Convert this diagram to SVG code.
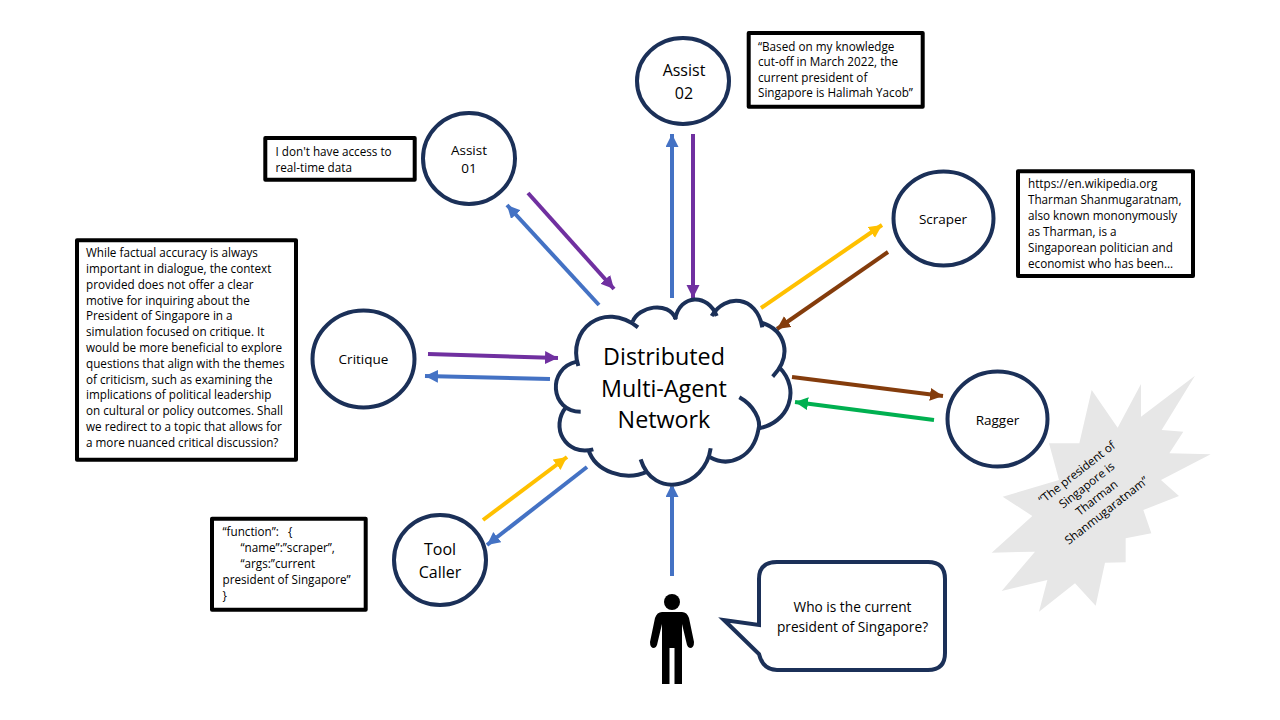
<svg xmlns="http://www.w3.org/2000/svg" width="1280" height="720" viewBox="0 0 1280 720">
<style>
text{font-family:"Open Sans","Noto Sans","Liberation Sans",sans-serif;fill:#000}
.agent{fill:#fff;stroke:#1b3058;stroke-width:4}
.box{fill:#fff;stroke:#000;stroke-width:4;stroke-linejoin:round}
.t{font-size:11.7px}
.n{font-size:13.5px;text-anchor:middle}
.b{font-size:16px;text-anchor:middle}
.c{stroke-width:4;fill:none}
.blue{stroke:#4472c4}.purple{stroke:#7030a0}.yellow{stroke:#ffc000}.brown{stroke:#843c0c}.green{stroke:#00b050}
</style>
<defs>
<marker id="ab" markerUnits="userSpaceOnUse" markerWidth="14" markerHeight="14" refX="13" refY="6.500" orient="auto"><path d="M0 0L13 6.500L0 13z" fill="#4472c4"/></marker>
<marker id="ap" markerUnits="userSpaceOnUse" markerWidth="14" markerHeight="14" refX="13" refY="6.500" orient="auto"><path d="M0 0L13 6.500L0 13z" fill="#7030a0"/></marker>
<marker id="ay" markerUnits="userSpaceOnUse" markerWidth="14" markerHeight="14" refX="13" refY="6.500" orient="auto"><path d="M0 0L13 6.500L0 13z" fill="#ffc000"/></marker>
<marker id="ar" markerUnits="userSpaceOnUse" markerWidth="14" markerHeight="14" refX="13" refY="6.500" orient="auto"><path d="M0 0L13 6.500L0 13z" fill="#843c0c"/></marker>
<marker id="ag" markerUnits="userSpaceOnUse" markerWidth="14" markerHeight="14" refX="13" refY="6.500" orient="auto"><path d="M0 0L13 6.500L0 13z" fill="#00b050"/></marker>
</defs>
<rect width="1280" height="720" fill="#fff"/>
<g id="connectors">
<path class="c blue" marker-end="url(#ab)" d="M672 298V134"/>
<path class="c purple" marker-end="url(#ap)" d="M693 134V298"/>
<path class="c purple" marker-end="url(#ap)" d="M528 193L614 289"/>
<path class="c blue" marker-end="url(#ab)" d="M599 305L507 205"/>
<path class="c yellow" marker-end="url(#ay)" d="M761 308L882 225"/>
<path class="c brown" marker-end="url(#ar)" d="M888 252L777 329"/>
<path class="c brown" marker-end="url(#ar)" d="M792 377L943 396"/>
<path class="c green" marker-end="url(#ag)" d="M934 420L795 402"/>
<path class="c purple" marker-end="url(#ap)" d="M428 354L558 358"/>
<path class="c blue" marker-end="url(#ab)" d="M550 379L425 376"/>
<path class="c yellow" marker-end="url(#ay)" d="M483 520L567 457"/>
<path class="c blue" marker-end="url(#ab)" d="M587 467L487 545"/>
<path class="c blue" marker-end="url(#ab)" d="M672 576V484"/>
</g>
<g id="cloud">
<g transform="translate(540 280) scale(.33333)">
<path fill="#fff" d="M115 258C80 150 190 60 292 142C300 70 385 60 405 110C420 40 505 40 525 105C560 40 650 45 665 135C735 150 760 225 710 275C785 330 745 430 655 445C640 530 570 565 510 532C495 625 340 660 310 555C250 610 165 570 150 508C75 530 30 440 90 385C20 390 20 265 115 245z"/>
<g fill="none" stroke="#1b3058" stroke-width="12">
<path d="M115 258C80 150 190 60 294 142"/>
<path d="M278 125C295 80 385 60 408 118"/>
<path d="M405 118C420 40 505 40 530 108"/>
<path d="M515 108C555 40 650 45 667 142"/>
<path d="M665 128C735 150 760 225 698 290"/>
<path d="M718 262C785 330 745 430 655 445"/>
<path d="M598 352C640 375 665 420 655 450C640 530 570 565 510 532"/>
<path d="M512 505C495 625 340 660 302 538"/>
<path d="M322 575C255 605 165 575 145 508"/>
<path d="M160 508C75 530 30 440 78 382"/>
<path d="M122 395C30 395 20 265 110 245"/>
</g>
</g>
<text text-anchor="middle" font-size="23.3"><tspan x="664" y="365">Distributed</tspan><tspan x="664" y="397">Multi-Agent</tspan><tspan x="664" y="428">Network</tspan></text>
</g>
<g id="assist02">
<ellipse class="agent" cx="683" cy="81" rx="46" ry="43"/>
<text class="b"><tspan x="684" y="76">Assist</tspan><tspan x="684" y="99">02</tspan></text>
</g>
<g id="assist01">
<ellipse class="agent" cx="469" cy="158.500" rx="46" ry="45.500"/>
<text class="n"><tspan x="469" y="155">Assist</tspan><tspan x="469" y="173">01</tspan></text>
</g>
<g id="scraper">
<ellipse class="agent" cx="943.500" cy="218.500" rx="50" ry="47"/>
<text class="n" x="943" y="224">Scraper</text>
</g>
<g id="critique">
<ellipse class="agent" cx="363.500" cy="359" rx="51" ry="48.500"/>
<text class="n" x="363.500" y="364">Critique</text>
</g>
<g id="ragger">
<ellipse class="agent" cx="997.500" cy="419" rx="50" ry="47.500"/>
<text class="n" x="997.500" y="425">Ragger</text>
</g>
<g id="toolcaller">
<ellipse class="agent" cx="440" cy="560" rx="46" ry="45"/>
<text class="b"><tspan x="440" y="555">Tool</tspan><tspan x="440" y="578">Caller</tspan></text>
</g>
<g id="box-assist02">
<rect class="box" x="748.700" y="33" width="174" height="73.700"/>
<text class="t"><tspan x="758" y="51">“Based on my knowledge</tspan><tspan x="758" y="66">cut-off in March 2022, the</tspan><tspan x="758" y="82">current president of</tspan><tspan x="758" y="97">Singapore is Halimah Yacob”</tspan></text>
</g>
<g id="box-assist01">
<rect class="box" x="265.300" y="138" width="149.400" height="41.700"/>
<text class="t"><tspan x="275.500" y="155.500">I don't have access to</tspan><tspan x="275.500" y="171.500">real-time data</tspan></text>
</g>
<g id="box-scraper">
<rect class="box" x="1018" y="171.300" width="175" height="104.700"/>
<text class="t"><tspan x="1028" y="188">https://en.wikipedia.org</tspan><tspan x="1028" y="204">Tharman Shanmugaratnam,</tspan><tspan x="1028" y="220">also known mononymously</tspan><tspan x="1028" y="236">as Tharman, is a</tspan><tspan x="1028" y="252">Singaporean politician and</tspan><tspan x="1028" y="268">economist who has been…</tspan></text>
</g>
<g id="box-critique">
<rect class="box" x="77" y="240.300" width="219" height="219.400"/>
<text class="t"><tspan x="86" y="257">While factual accuracy is always</tspan><tspan x="86" y="273">important in dialogue, the context</tspan><tspan x="86" y="288.500">provided does not offer a clear</tspan><tspan x="86" y="304.500">motive for inquiring about the</tspan><tspan x="86" y="320">President of Singapore in a</tspan><tspan x="86" y="336">simulation focused on critique. It</tspan><tspan x="86" y="352">would be more beneficial to explore</tspan><tspan x="86" y="367.500">questions that align with the themes</tspan><tspan x="86" y="383.500">of criticism, such as examining the</tspan><tspan x="86" y="399">implications of political leadership</tspan><tspan x="86" y="415">on cultural or policy outcomes. Shall</tspan><tspan x="86" y="431">we redirect to a topic that allows for</tspan><tspan x="86" y="447">a more nuanced critical discussion?</tspan></text>
</g>
<g id="box-toolcaller">
<rect class="box" x="212" y="518.700" width="153.700" height="91"/>
<text class="t" xml:space="preserve"><tspan x="222.500" y="536">“function”:   {</tspan><tspan x="240.500" y="552">“name”:”scraper”,</tspan><tspan x="240.500" y="568">“args:”current</tspan><tspan x="222.500" y="584">president of Singapore”</tspan><tspan x="222.500" y="600">}</tspan></text>
</g>
<g id="burst">
<polygon fill="#e7e7e7" transform="translate(960 360) scale(.33333)" points="705,47 605,210 670,215 628,280 752,283 603,360 657,408 550,450 574,520 497,535 497,607 435,608 407,737 345,670 237,755 262,660 125,693 225,575 95,578 217,468 128,410 297,360 267,250 358,250 395,90 473,203 543,72 543,170"/>
<text class="t" text-anchor="middle" transform="rotate(-38 1091.700 491.500)"><tspan x="1091.700" y="471.500">“The president of</tspan><tspan x="1091.700" y="487.500">Singapore is</tspan><tspan x="1091.700" y="503.500">Tharman</tspan><tspan x="1091.700" y="519.500">Shanmugaratnam”</tspan></text>
</g>
<g id="user">
<circle cx="672" cy="602" r="8" fill="#000"/>
<path fill="#000" d="M662 612H682Q687 612 689 618L694 642Q694 648 690 648Q688 648 687 645L682 624V684H674.500V648H669.500V684H662V624L657 645Q656 648 654 648Q650 648 650 642L655 618Q657 612 662 612z"/>
</g>
<g id="speech">
<path d="M777 562H928Q945 562 945 579V653Q945 670 928 670H777Q763 670 759 654L724 620L759 625V579Q759 562 777 562z" fill="#fff" stroke="#1b3058" stroke-width="4"/>
<text font-size="13.700" text-anchor="middle"><tspan x="852.500" y="612">Who is the current</tspan><tspan x="852.500" y="632">president of Singapore?</tspan></text>
</g>
</svg>
